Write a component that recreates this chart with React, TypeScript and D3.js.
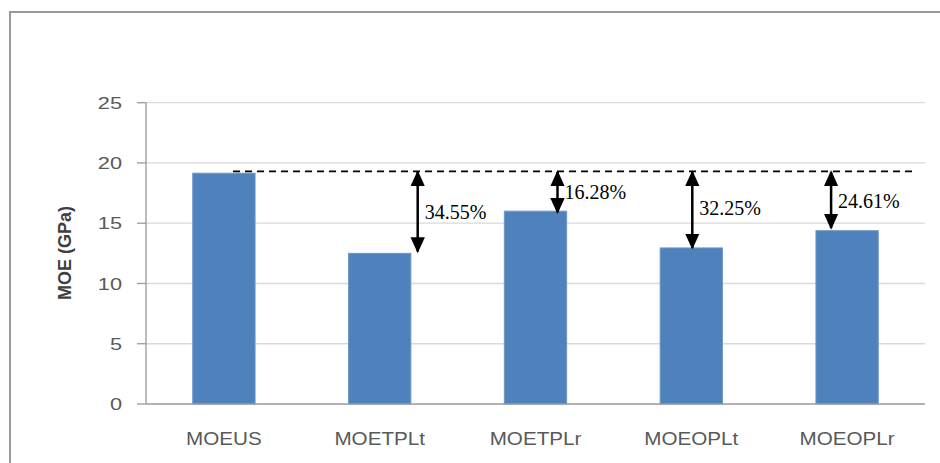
import React, { useEffect, useRef } from "react";
import * as d3 from "d3";

const categories = ["MOEUS", "MOETPLt", "MOETPLr", "MOEOPLt", "MOEOPLr"];
const values = [19.15, 12.5, 16.0, 12.95, 14.38];
const yTicks = [0, 5, 10, 15, 20, 25];
const referenceValue = 19.3;
const annotationCats = ["MOETPLt", "MOETPLr", "MOEOPLt", "MOEOPLr"];
const annotationLabels = ["34.55%", "16.28%", "32.25%", "24.61%"];

const W = 940;
const H = 463;
const plotLeft = 146;
const plotRight = 925;
const plotTop = 102.7;
const plotBottom = 404;
// hand placement of each arrow relative to its band center
const arrowOffsets = [38, 22, 1, -16];
const arrowBottomValues = [12.65, 15.9, 12.95, 14.6];
const labelDy = [7, 7, 5, 8];

export default function App() {
  const ref = useRef<SVGSVGElement>(null);

  useEffect(() => {
    const svg = d3.select(ref.current);
    svg.selectAll("*").remove();

    const x = d3
      .scaleBand<string>()
      .domain(categories)
      .range([plotLeft, plotRight])
      .paddingInner(0.6)
      .paddingOuter(0.3);
    const y = d3.scaleLinear().domain([0, 25]).range([plotBottom, plotTop]);

    const defs = svg.append("defs");
    defs
      .append("marker")
      .attr("id", "ah")
      .attr("viewBox", "0 0 10 10")
      .attr("refX", 9)
      .attr("refY", 5)
      .attr("markerUnits", "userSpaceOnUse")
      .attr("markerWidth", 16)
      .attr("markerHeight", 16)
      .attr("orient", "auto-start-reverse")
      .append("path")
      .attr("d", "M0,0.5 L10,5 L0,9.5 Z")
      .attr("fill", "#000");

    // outer frame (only top/left visible)
    svg
      .append("rect")
      .attr("x", 10)
      .attr("y", 12)
      .attr("width", W + 20)
      .attr("height", H + 20)
      .attr("fill", "#fff")
      .attr("stroke", "#9a9a9a")
      .attr("stroke-width", 2);

    // gridlines
    svg
      .append("g")
      .selectAll("line")
      .data(yTicks.filter((t) => t > 0))
      .join("line")
      .attr("x1", plotLeft)
      .attr("x2", plotRight)
      .attr("y1", (d) => y(d))
      .attr("y2", (d) => y(d))
      .attr("stroke", "#d9d9d9")
      .attr("stroke-width", 1.3);

    // y axis
    svg
      .append("line")
      .attr("x1", plotLeft)
      .attr("x2", plotLeft)
      .attr("y1", plotTop)
      .attr("y2", plotBottom)
      .attr("stroke", "#9a9a9a")
      .attr("stroke-width", 1.3);
    svg
      .append("g")
      .selectAll("line")
      .data(yTicks)
      .join("line")
      .attr("x1", plotLeft - 9)
      .attr("x2", plotLeft)
      .attr("y1", (d) => y(d))
      .attr("y2", (d) => y(d))
      .attr("stroke", "#9a9a9a")
      .attr("stroke-width", 1.3);
    svg
      .append("g")
      .selectAll("text")
      .data(yTicks)
      .join("text")
      .attr("transform", (d) => `translate(${plotLeft - 24},${y(d)}) scale(1.28,1)`)
      .attr("dy", "0.36em")
      .attr("text-anchor", "end")
      .attr("font-family", "'Liberation Sans', Arial, sans-serif")
      .attr("font-size", 17)
      .attr("fill", "#595959")
      .text((d) => String(d));

    // bars
    svg
      .append("g")
      .selectAll("rect")
      .data(values)
      .join("rect")
      .attr("x", (_, i) => x(categories[i])!)
      .attr("width", x.bandwidth())
      .attr("y", (d) => y(d))
      .attr("height", (d) => plotBottom - y(d))
      .attr("fill", "#4f81bd")
      .attr("stroke", "#6f97c9")
      .attr("stroke-width", 1);

    // x axis
    svg
      .append("line")
      .attr("x1", plotLeft)
      .attr("x2", plotRight)
      .attr("y1", plotBottom)
      .attr("y2", plotBottom)
      .attr("stroke", "#9a9a9a")
      .attr("stroke-width", 1.3);
    svg
      .append("g")
      .selectAll("text")
      .data(categories)
      .join("text")
      .attr(
        "transform",
        (d) => `translate(${x(d)! + x.bandwidth() / 2},445) scale(1.18,1)`
      )
      .attr("text-anchor", "middle")
      .attr("font-family", "'Liberation Sans', Arial, sans-serif")
      .attr("font-size", 17.5)
      .attr("fill", "#595959")
      .text((d) => d);

    // y label
    svg
      .append("text")
      .attr("transform", `translate(71,253) rotate(-90)`)
      .attr("text-anchor", "middle")
      .attr("font-family", "'Liberation Sans', Arial, sans-serif")
      .attr("font-weight", "bold")
      .attr("font-size", 18)
      .attr("fill", "#404040")
      .text("MOE (GPa)");

    // dashed reference line
    svg
      .append("line")
      .attr("x1", 233)
      .attr("x2", 912)
      .attr("y1", y(referenceValue))
      .attr("y2", y(referenceValue))
      .attr("stroke", "#000")
      .attr("stroke-width", 1.6)
      .attr("stroke-dasharray", "7,5");

    // arrows + labels
    const g = svg.append("g");
    annotationCats.forEach((c, i) => {
      const ax = x(c)! + x.bandwidth() / 2 + arrowOffsets[i];
      const y1 = y(referenceValue) + 0.5;
      const y2 = y(arrowBottomValues[i]);
      g.append("line")
        .attr("x1", ax)
        .attr("x2", ax)
        .attr("y1", y1)
        .attr("y2", y2)
        .attr("stroke", "#000")
        .attr("stroke-width", 2.5)
        .attr("marker-start", "url(#ah)")
        .attr("marker-end", "url(#ah)");
      g.append("text")
        .attr("x", ax + 7)
        .attr("y", (y1 + y2) / 2 + labelDy[i])
        .attr("font-family", "'Liberation Serif', 'Times New Roman', serif")
        .attr("font-size", 20)
        .attr("fill", "#000")
        .text(annotationLabels[i]);
    });
  }, []);

  return (
    <svg
      ref={ref}
      width={W}
      height={H}
      style={{ position: "absolute", left: 0, top: 0, background: "#fff" }}
    />
  );
}
